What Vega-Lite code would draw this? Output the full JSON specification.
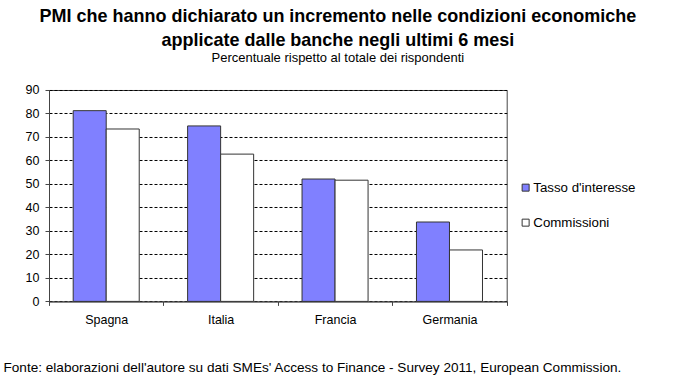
{
  "$schema": "https://vega.github.io/schema/vega-lite/v6.json",
  "width": 457.7,
  "height": 211.4,
  "padding": {"left": 3, "top": 8, "right": 5, "bottom": 3},
  "background": "white",
  "config": {
    "font": "Liberation Sans",
    "view": {"stroke": "#444", "strokeWidth": 1}
  },
  "title": {
    "text": ["PMI che hanno dichiarato un incremento nelle condizioni economiche", "applicate dalle banche negli ultimi 6 mesi"],
    "subtitle": "Percentuale rispetto al totale dei rispondenti",
    "font": "Liberation Sans",
    "fontSize": 18,
    "fontWeight": "bold",
    "lineHeight": 24,
    "color": "#000",
    "subtitleFont": "Liberation Sans",
    "subtitleFontSize": 13,
    "subtitleColor": "#000",
    "subtitlePadding": 2,
    "anchor": "middle",
    "frame": "group",
    "dx": 60,
    "offset": 19
  },
  "data": {
    "values": [
      {"paese": "Spagna", "serie": "Tasso d'interesse", "valore": 81.2},
      {"paese": "Spagna", "serie": "Commissioni", "valore": 73.4},
      {"paese": "Italia", "serie": "Tasso d'interesse", "valore": 74.7},
      {"paese": "Italia", "serie": "Commissioni", "valore": 62.7},
      {"paese": "Francia", "serie": "Tasso d'interesse", "valore": 52.1},
      {"paese": "Francia", "serie": "Commissioni", "valore": 51.6},
      {"paese": "Germania", "serie": "Tasso d'interesse", "valore": 33.8},
      {"paese": "Germania", "serie": "Commissioni", "valore": 21.9}
    ]
  },
  "mark": {"type": "bar", "stroke": "#333", "strokeWidth": 1},
  "encoding": {
    "x": {
      "field": "paese",
      "type": "nominal",
      "sort": null,
      "scale": {"paddingInner": 0, "paddingOuter": 0},
      "axis": {
        "title": "Fonte: elaborazioni dell'autore su dati SMEs' Access to Finance - Survey 2011, European Commission.",
        "titleFont": "Liberation Sans",
        "titleFontSize": 13.6,
        "titleFontWeight": "normal",
        "titleColor": "#000",
        "titleAnchor": "start",
        "titleAlign": "left",
        "titleBaseline": "middle",
        "titleX": -46,
        "titleY": 66,
        "labelAngle": 0,
        "labelFontSize": 12.5,
        "labelColor": "#000",
        "labelPadding": 8,
        "tickBand": "extent",
        "tickSize": 4,
        "tickColor": "#444",
        "domainColor": "#444"
      }
    },
    "xOffset": {
      "field": "serie",
      "sort": ["Tasso d'interesse", "Commissioni"],
      "scale": {"paddingInner": 0, "paddingOuter": 0.733}
    },
    "y": {
      "field": "valore",
      "type": "quantitative",
      "scale": {"domain": [0, 90], "nice": false},
      "axis": {
        "title": null,
        "values": [0, 10, 20, 30, 40, 50, 60, 70, 80, 90],
        "labelFontSize": 12.5,
        "labelColor": "#000",
        "labelPadding": 6,
        "tickSize": 4,
        "tickColor": "#444",
        "domainColor": "#444",
        "grid": true,
        "gridColor": "#000",
        "gridDash": [3, 2],
        "gridWidth": 1
      }
    },
    "color": {
      "field": "serie",
      "type": "nominal",
      "scale": {"domain": ["Tasso d'interesse", "Commissioni"], "range": ["#8080FF", "#FFFFFF"]},
      "legend": {
        "title": null,
        "orient": "none",
        "legendX": 470,
        "legendY": 91,
        "padding": 0,
        "symbolType": "square",
        "symbolSize": 49,
        "symbolStrokeColor": "#333",
        "symbolStrokeWidth": 1,
        "labelFontSize": 13.3,
        "labelColor": "#000",
        "labelOffset": 1,
        "rowPadding": 21
      }
    }
  }
}
